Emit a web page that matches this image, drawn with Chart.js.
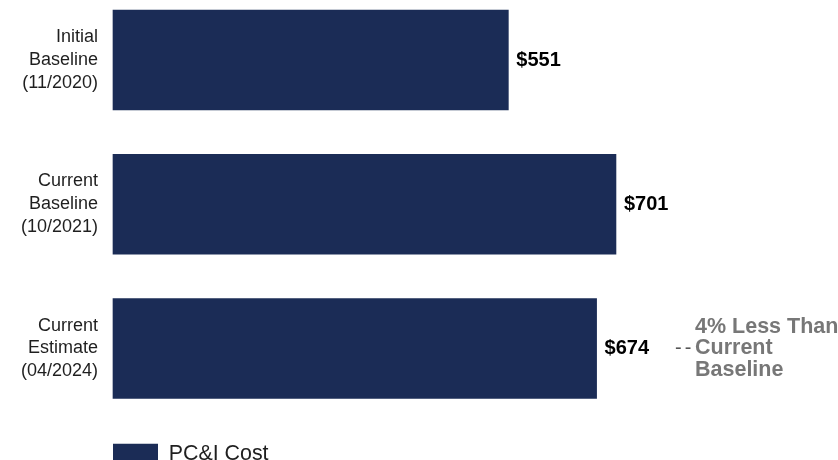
<!DOCTYPE html>
<html>
<head>
<meta charset="utf-8">
<script src="https://cdn.jsdelivr.net/npm/chart.js@4/dist/chart.umd.min.js"></script>
<style>
  html, body { margin: 0; padding: 0; background: #fff; overflow: hidden; }
  #wrap { position: relative; width: 838px; height: 480px; }
</style>
</head>
<body>
<div id="wrap"><canvas id="costChart"></canvas></div>
<script>
// PC&I cost by estimate, $ millions
const categories = [
  ["Initial", "Baseline", "(11/2020)"],
  ["Current", "Baseline", "(10/2021)"],
  ["Current", "Estimate", "(04/2024)"]
];
const costValues = [551, 701, 674];
const seriesLabel = "PC&I Cost";
const noteLines = ["4% Less Than", "Current", "Baseline"];

const NAVY = "#1b2c56";
const FONT = "'Liberation Sans', Arial, sans-serif";

// writes "$xxx" next to each bar, plus the note beside the last one
const barLabels = {
  id: "barLabels",
  afterDatasetsDraw(chart) {
    const ctx = chart.ctx;
    const bars = chart.getDatasetMeta(0).data;
    ctx.save();
    ctx.textBaseline = "middle";
    ctx.textAlign = "left";
    ctx.font = "bold 20px " + FONT;
    ctx.fillStyle = "#000";
    bars.forEach((bar, i) => {
      ctx.fillText("$" + costValues[i], bar.x + 8, bar.y);
    });

    const last = bars[bars.length - 1];
    const noteX = 695;
    ctx.font = "bold 21.5px " + FONT;
    ctx.fillStyle = "#777";
    noteLines.forEach((line, i) => {
      ctx.fillText(line, noteX, last.y + (i - 1) * 21.5);
    });
    ctx.font = "20px " + FONT;
    ctx.fillStyle = "#555";
    ctx.letterSpacing = "3px";
    ctx.fillText("--", 675, last.y);
    ctx.restore();
  }
};

const ctx = document.getElementById("costChart").getContext("2d");
const chart = new Chart(ctx, {
  type: "bar",
  data: {
    labels: categories,
    datasets: [
      {
        label: seriesLabel,
        data: costValues,
        backgroundColor: NAVY,
        borderWidth: 0,
        barThickness: 100,
        clip: false
      }
    ]
  },
  options: {
    indexAxis: "y",
    responsive: true,
    maintainAspectRatio: false,
    animation: false,
    layout: {
      padding: { top: 60, right: 7.5, bottom: 5.6, left: 0 }
    },
    plugins: {
      legend: {
        position: "bottom",
        align: "start",
        fullSize: false,
        labels: {
          boxWidth: 45,
          boxHeight: 20,
          padding: 0,
          color: "#1f1f1f",
          font: { family: FONT, size: 21.4 }
        }
      },
      tooltip: { enabled: false }
    },
    scales: {
      x: {
        min: 0,
        max: 1000,
        grid: { display: false, drawTicks: false },
        border: { display: false },
        ticks: { display: false },
        // empty title keeps the legend well below the bars
        title: { display: true, text: "", font: { size: 10, lineHeight: 1 }, padding: { top: 84.5, bottom: 0 } }
      },
      y: {
        offset: false,
        grid: { display: false, drawTicks: false },
        border: { display: false },
        ticks: {
          padding: 15,
          color: "#1f1f1f",
          font: { family: FONT, size: 18, lineHeight: 1.27 }
        },
        afterFit(scale) {
          scale.width = 113;
        }
      }
    }
  },
  plugins: [barLabels]
});
</script>
</body>
</html>
